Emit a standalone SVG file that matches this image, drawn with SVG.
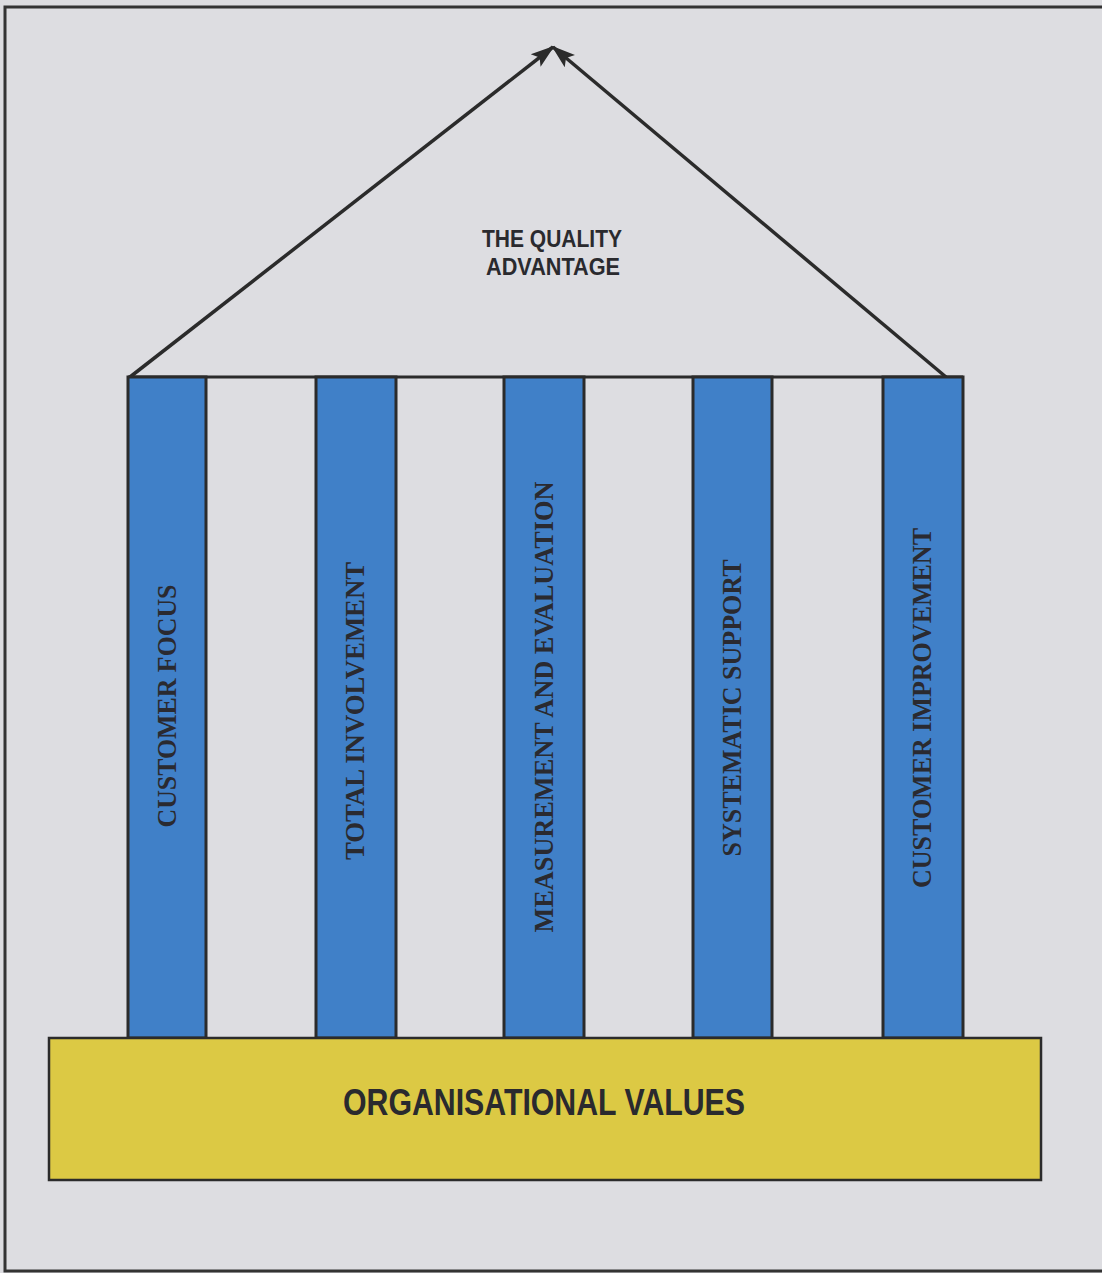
<svg xmlns="http://www.w3.org/2000/svg" width="1102" height="1273" viewBox="0 0 1102 1273">
  <style>
    .pillar { fill: #4080c8; stroke: #2b2b2b; stroke-width: 3; }
    .base { fill: #dcc944; stroke: #2b2b2b; stroke-width: 2.5; }
    .beam { stroke: #2b2b2b; stroke-width: 3; fill: none; }
    .roof { stroke: #2b2b2b; stroke-width: 3.5; fill: none; marker-end: url(#head); }
    .vlabel { font-family: "Liberation Serif", "Times New Roman", serif; font-weight: bold; font-size: 27px; fill: #2a2a30; text-anchor: middle; }
    .sans { font-family: "Liberation Sans", Arial, sans-serif; font-weight: bold; fill: #2a2a2e; text-anchor: middle; }
  </style>
  <defs>
    <marker id="head" markerUnits="userSpaceOnUse" markerWidth="24" markerHeight="20" viewBox="0 0 24 20" refX="22" refY="10" orient="auto">
      <path d="M0,2 L24,10 L0,18 L5,10 Z" fill="#2b2b2b"/>
    </marker>
  </defs>

  <!-- page and frame -->
  <rect x="0" y="0" width="1102" height="1273" fill="#dcdce0"/>
  <rect x="5" y="7" width="1115" height="1264" fill="#dddde1" stroke="#333" stroke-width="3"/>

  <!-- roof connectors meeting at the apex -->
  <g id="connectors">
    <line class="roof" x1="130" y1="377" x2="553" y2="47"/>
    <line class="roof" x1="946" y1="377" x2="553" y2="47"/>
  </g>

  <g id="roof-label">
    <text class="sans" x="552" y="247" font-size="23" textLength="140" lengthAdjust="spacingAndGlyphs">THE QUALITY</text>
    <text class="sans" x="553" y="275" font-size="23" textLength="134" lengthAdjust="spacingAndGlyphs">ADVANTAGE</text>
  </g>

  <!-- lintel across the pillar tops -->
  <line class="beam" x1="128" y1="377" x2="963" y2="377"/>

  <g id="pillar-customer-focus">
    <rect class="pillar" x="128" y="377" width="78" height="661"/>
    <text class="vlabel" transform="translate(176,706) rotate(-90)" textLength="243" lengthAdjust="spacingAndGlyphs">CUSTOMER FOCUS</text>
  </g>
  <g id="pillar-total-involvement">
    <rect class="pillar" x="316" y="377" width="80" height="661"/>
    <text class="vlabel" transform="translate(364,711) rotate(-90)" textLength="298" lengthAdjust="spacingAndGlyphs">TOTAL INVOLVEMENT</text>
  </g>
  <g id="pillar-measurement">
    <rect class="pillar" x="504" y="377" width="80" height="661"/>
    <text class="vlabel" transform="translate(553,707) rotate(-90)" textLength="451" lengthAdjust="spacingAndGlyphs">MEASUREMENT AND EVALUATION</text>
  </g>
  <g id="pillar-systematic-support">
    <rect class="pillar" x="693" y="377" width="79" height="661"/>
    <text class="vlabel" transform="translate(741,708) rotate(-90)" textLength="297" lengthAdjust="spacingAndGlyphs">SYSTEMATIC SUPPORT</text>
  </g>
  <g id="pillar-customer-improvement">
    <rect class="pillar" x="883" y="377" width="80" height="661"/>
    <text class="vlabel" transform="translate(931,708) rotate(-90)" textLength="360" lengthAdjust="spacingAndGlyphs">CUSTOMER IMPROVEMENT</text>
  </g>

  <g id="organisational-values">
    <rect class="base" x="49" y="1038" width="992" height="142"/>
    <text class="sans" x="544" y="1115" font-size="37" textLength="402" lengthAdjust="spacingAndGlyphs">ORGANISATIONAL VALUES</text>
  </g>
</svg>
